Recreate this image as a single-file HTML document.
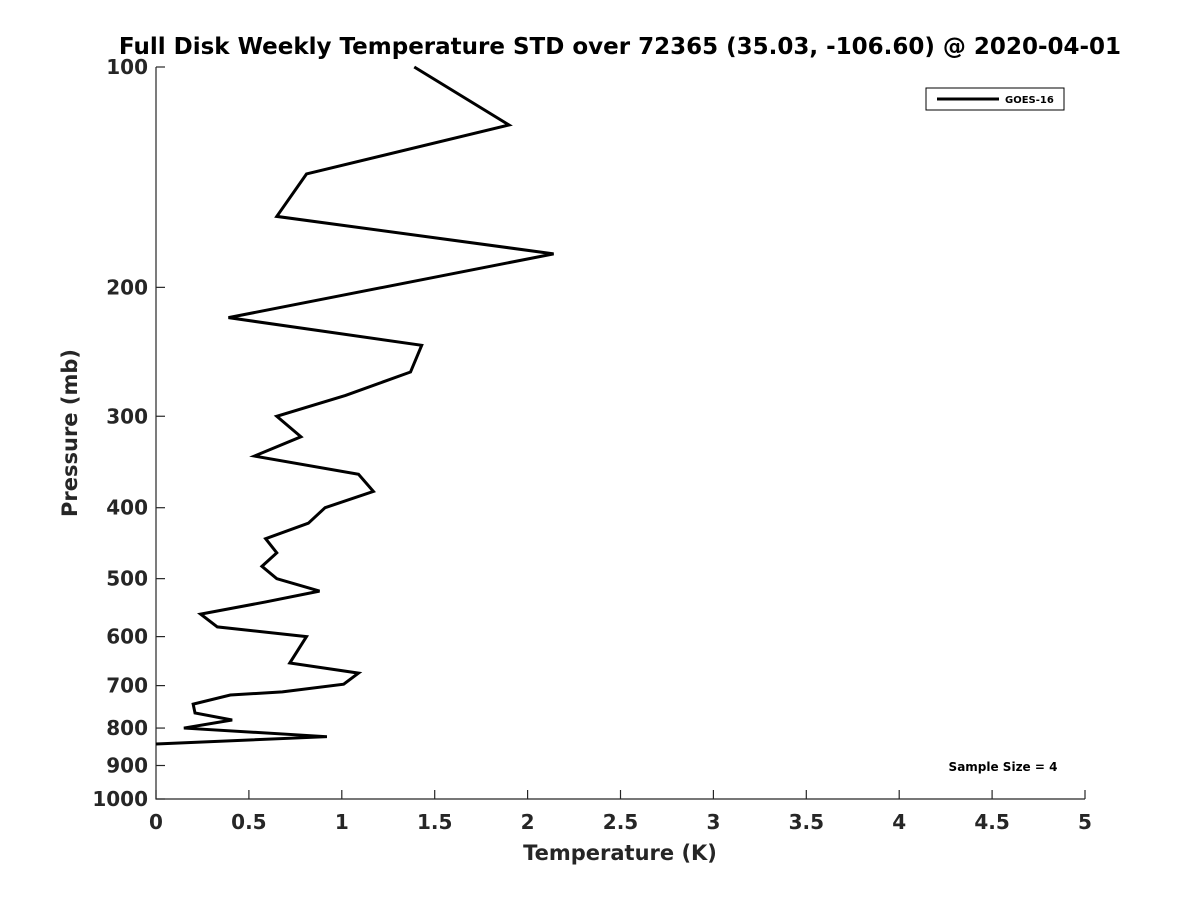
<!DOCTYPE html>
<html><head><meta charset="utf-8"><style>
body{margin:0;background:#fff;font-family:"Liberation Sans","DejaVu Sans",sans-serif}
</style></head><body>
<svg width="1200" height="900" xmlns="http://www.w3.org/2000/svg" id="chart" font-family="DejaVu Sans, Liberation Sans, sans-serif">
<rect width="1200" height="900" fill="#fff"/>
<text x="620" y="54" text-anchor="middle" font-size="23" font-weight="bold">Full Disk Weekly Temperature STD over 72365 (35.03, -106.60) @ 2020-04-01</text>
<g id="axes"></g>
<text x="620" y="860" text-anchor="middle" font-size="21" font-weight="bold" fill="#262626">Temperature (K)</text>
<text transform="translate(77,433) rotate(-90)" text-anchor="middle" font-size="21" font-weight="bold" fill="#262626">Pressure (mb)</text>
<g>
<rect x="926" y="88" width="138" height="22" fill="#fff" stroke="#000" stroke-width="1"/>
<line x1="937" y1="99" x2="999" y2="99" stroke="#000" stroke-width="3"/>
<text x="1005" y="103" font-size="10" font-weight="bold">GOES-16</text>
</g>
<text x="1003" y="771" text-anchor="middle" font-size="12" font-weight="bold">Sample Size = 4</text>
</svg>
<script>
const temps=[1.39,1.90,0.81,0.65,2.14,0.39,1.43,1.37,1.02,0.65,0.78,0.53,1.09,1.17,0.91,0.82,0.59,0.65,0.57,0.65,0.88,0.59,0.24,0.33,0.81,0.72,1.09,1.01,0.68,0.40,0.20,0.21,0.41,0.15,0.92,0.0];
const pressures=[100,120,140,160,180,220,240,261,281,300,320,340,360,380,400,420,441,461,481,500,520,538,559,582,600,652,673,697,714,721,742,763,780,800,822,841];
const xTicks=[0,0.5,1,1.5,2,2.5,3,3.5,4,4.5,5];
const xTickLabels=["0","0.5","1","1.5","2","2.5","3","3.5","4","4.5","5"];
const yTicks=[100,200,300,400,500,600,700,800,900,1000];
const yTickLabels=["100","200","300","400","500","600","700","800","900","1000"];
const X0=156,X1=1085,Y0=67,Y1=799;
const xs=v=>X0+(v-0)/(5-0)*(X1-X0);
const ys=p=>Y0+(Math.log10(p)-2)/(3-2)*(Y1-Y0);
const NS="http://www.w3.org/2000/svg";
const svg=document.getElementById('chart');
const g=document.getElementById('axes');
function mk(t,a,parent){const e=document.createElementNS(NS,t);for(const k in a)e.setAttribute(k,a[k]);(parent||g).appendChild(e);return e;}
const ax=mk('path',{d:`M${X0},${Y0}V${Y1}H${X1}`,fill:'none',stroke:'#262626','stroke-width':1.2});


xTicks.forEach((v,i)=>{
 const x=xs(v);
 const t=mk('line',{x1:x,x2:x,y1:Y1,y2:Y1-9,stroke:'#262626','stroke-width':1.2});
 
 
 const l=mk('text',{x:x,y:Y1+30,'text-anchor':'middle','font-size':20,'font-weight':'bold',fill:'#262626'});
 l.textContent=xTickLabels[i];
 
 
});
yTicks.forEach((p,i)=>{
 const y=ys(p);
 const t=mk('line',{x1:X0,x2:X0+9,y1:y,y2:y,stroke:'#262626','stroke-width':1.2});
 
 
 const l=mk('text',{x:X0-8,y:y+7,'text-anchor':'end','font-size':20,'font-weight':'bold',fill:'#262626'});
 l.textContent=yTickLabels[i];
 
 
});
const line=mk('polyline',{points:temps.map((t,i)=>xs(t)+','+ys(pressures[i])).join(' '),fill:'none',stroke:'#000','stroke-width':3,'stroke-linejoin':'miter'});


</script>
</body></html>
